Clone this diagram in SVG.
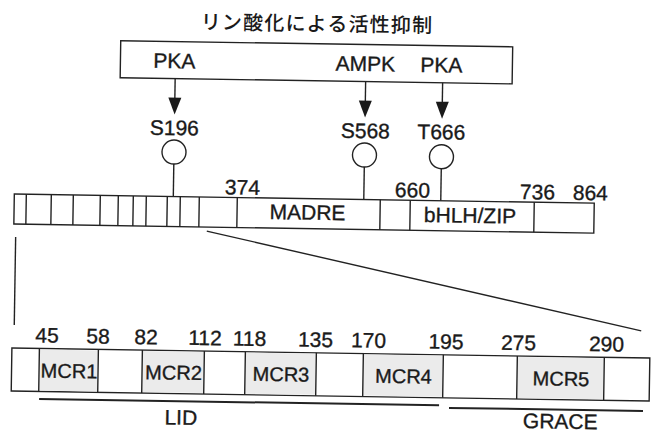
<svg xmlns="http://www.w3.org/2000/svg" width="658" height="434" viewBox="0 0 658 434">
<defs>
<style>
.ln{stroke:#222;stroke-width:1.4;fill:none}
.bx{stroke:#222;stroke-width:1.4;fill:#fff}
.sh{fill:#ebebeb;stroke:none}
.t{font-family:"Liberation Sans",Arial,sans-serif;font-size:21px;fill:#1a1a1a;stroke:#1a1a1a;stroke-width:0.35;text-anchor:middle}
.m{font-size:20px}
.jp{font-family:"Noto Sans CJK JP","Noto Sans CJK SC",sans-serif;font-size:20px;font-weight:500;fill:#1a1a1a;text-anchor:middle;letter-spacing:1.2px}
.thick{stroke:#222;stroke-width:2;fill:none}
.ah{fill:#1a1a1a}
</style>
</defs>
<rect width="658" height="434" fill="#fff"/>
<g transform="rotate(0.9 329 217)">
<g id="title"><text class="jp" x="314" y="31">リン酸化による活性抑制</text></g>

<g id="kinases">
<rect class="bx" x="118" y="44" width="392" height="37"/>
<text class="t" x="172" y="70.5">PKA</text>
<text class="t" x="363" y="70.5">AMPK</text>
<text class="t" x="439" y="70.5">PKA</text>
</g>

<g id="connectors">
<line class="ln" x1="173" y1="81" x2="173" y2="101"/>
<path class="ah" d="M166.5,100 L179.5,100 L173,117 Z"/>
<line class="ln" x1="363.5" y1="81" x2="363.5" y2="101"/>
<path class="ah" d="M357,100 L370,100 L363.5,117 Z"/>
<line class="ln" x1="440.5" y1="81" x2="440.5" y2="101"/>
<path class="ah" d="M434,100 L447,100 L440.5,117 Z"/>
<line class="ln" x1="173" y1="166.5" x2="173" y2="199"/>
<line class="ln" x1="363.5" y1="166.5" x2="363.5" y2="199"/>
<line class="ln" x1="440.5" y1="167" x2="440.5" y2="199"/>
<line class="ln" x1="207" y1="233" x2="643" y2="326"/>
<line class="ln" x1="16" y1="242" x2="16" y2="330"/>
</g>

<g id="site-S196">
<text class="t" x="173" y="137.5">S196</text>
<circle class="bx" cx="173" cy="154.5" r="12"/>
</g>
<g id="site-S568">
<text class="t" x="364" y="137.5">S568</text>
<circle class="bx" cx="363.5" cy="154.5" r="12"/>
</g>
<g id="site-T666">
<text class="t" x="440" y="137.5">T666</text>
<circle class="bx" cx="440.5" cy="155" r="12"/>
</g>

<g id="protein-bar">
<rect class="bx" x="14" y="199" width="580" height="30"/>
<path class="ln" d="M26,199V229M51,199V229M73,199V229M100,199V229M118,199V229M133,199V229M146,199V229M167,199V229M180,199V229M199,199V229M237,199V229M380,199V229M410,199V229M534,199V229"/>
<text class="t" x="242" y="196">374</text>
<text class="t" x="412" y="196">660</text>
<text class="t" x="537" y="196">736</text>
<text class="t" x="590" y="196">864</text>
<text class="t" x="307.5" y="220">MADRE</text>
<text class="t" x="470" y="220.5">bHLH/ZIP</text>
</g>

<g id="mcr-bar">
<rect class="bx" x="14" y="353" width="638" height="43"/>
<rect class="sh" x="42" y="354" width="58" height="41"/>
<rect class="sh" x="145" y="354" width="61" height="41"/>
<rect class="sh" x="248" y="354" width="70" height="41"/>
<rect class="sh" x="366" y="354" width="79" height="41"/>
<rect class="sh" x="520" y="354" width="86" height="41"/>
<path class="ln" d="M41.5,353V396M100.5,353V396M144.5,353V396M206.5,353V396M247.5,353V396M318.5,353V396M365.5,353V396M445.5,353V396M519.5,353V396M606.5,353V396"/>
<text class="t" x="49" y="347">45</text>
<text class="t" x="100" y="347">58</text>
<text class="t" x="148" y="347">82</text>
<text class="t" x="207" y="347">112</text>
<text class="t" x="251.5" y="347">118</text>
<text class="t" x="317.5" y="347">135</text>
<text class="t" x="370.5" y="347">170</text>
<text class="t" x="448" y="347">195</text>
<text class="t" x="520.5" y="347">275</text>
<text class="t" x="608.5" y="347">290</text>
<text class="t m" x="71.5" y="382">MCR1</text>
<text class="t m" x="176" y="382">MCR2</text>
<text class="t m" x="283.5" y="382">MCR3</text>
<text class="t m" x="406" y="382">MCR4</text>
<text class="t m" x="563.5" y="382">MCR5</text>
</g>

<g id="LID">
<line class="thick" x1="42" y1="403.5" x2="442" y2="403.5"/>
<text class="t" x="184" y="427">LID</text>
</g>
<g id="GRACE">
<line class="thick" x1="452" y1="406" x2="646" y2="406"/>
<text class="t" x="563.5" y="425">GRACE</text>
</g>
</g>
</svg>
